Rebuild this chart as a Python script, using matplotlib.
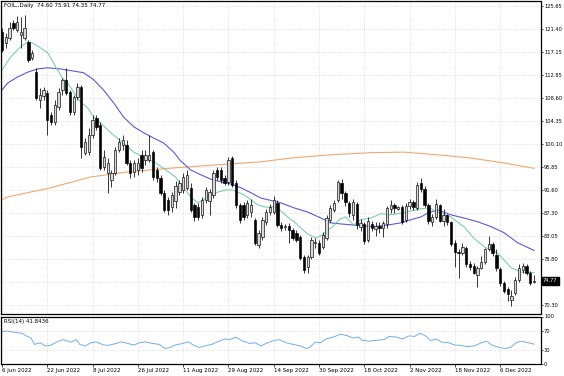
import matplotlib
matplotlib.use("Agg")
import matplotlib.pyplot as plt
import matplotlib.transforms as mtransforms
import numpy as np

opens = [120.84,118.80,119.73,122.51,121.21,120.29,119.73,118.99,116.03,113.44,
         108.26,109.00,109.56,105.49,104.19,106.97,110.11,111.96,109.74,106.04,
         108.82,110.67,98.46,98.64,101.79,104.93,103.64,95.87,94.76,93.46,
         94.76,99.01,99.94,99.94,96.61,94.94,95.31,98.09,97.16,97.16,
         98.64,95.31,93.83,91.06,89.76,88.47,89.50,91.24,91.61,91.98,
         91.98,88.84,88.47,86.99,89.76,89.50,90.69,95.31,95.31,93.83,
         93.09,97.53,92.91,88.84,88.84,86.99,87.50,86.06,81.44,82.92,
         85.69,87.54,87.54,89.21,85.14,84.77,84.86,84.21,83.66,82.92,
         79.22,77.37,79.22,81.81,81.81,81.07,82.73,86.06,87.91,89.76,
         92.90,91.00,89.20,86.90,89.00,84.70,85.30,82.40,85.30,84.40,
         84.90,84.60,85.20,88.00,88.80,88.00,88.40,86.00,88.60,89.40,
         88.30,92.90,91.80,88.90,85.60,86.60,88.90,85.90,86.90,85.60,
         81.70,80.10,80.00,80.90,77.90,77.60,75.90,77.20,78.20,80.60,
         81.50,79.60,77.00,74.40,73.30,71.30,72.60,75.00,76.80,77.50,
         76.20,74.60]
highs = [121.58,120.66,122.69,123.06,123.80,123.62,123.99,119.36,117.51,114.18,
         110.48,110.67,110.11,106.04,108.26,110.48,112.33,114.18,110.11,109.19,
         111.40,111.00,101.23,103.00,105.49,105.49,104.19,99.01,97.53,95.31,
         99.56,101.23,101.79,100.86,97.16,97.16,97.53,99.01,99.01,101.79,
         99.01,95.87,94.39,91.61,90.32,91.24,93.20,93.46,94.76,95.31,
         92.91,89.21,89.21,90.32,92.17,91.80,95.31,95.87,95.87,94.39,
         97.72,97.90,93.46,89.21,89.39,89.76,89.95,86.43,84.21,86.62,
         88.10,89.02,90.50,89.76,85.69,85.30,85.50,84.58,84.21,83.29,
         79.59,79.60,82.92,82.73,82.36,83.84,86.99,88.84,89.76,93.46,
         93.60,91.40,89.60,89.90,89.40,86.20,85.70,86.60,85.90,85.60,
         85.60,85.80,88.60,89.80,89.10,88.60,88.80,89.20,90.00,89.70,
         93.10,93.80,92.30,89.20,87.20,89.90,89.00,88.00,87.20,85.80,
         82.30,80.60,81.70,81.30,78.50,78.00,77.60,79.40,80.80,83.00,
         81.90,80.60,77.40,74.80,73.60,73.00,75.50,77.90,78.00,77.80,
         76.60,75.91]
lows = [117.14,117.88,119.36,121.21,120.84,117.88,119.36,115.29,115.66,108.26,
        106.78,108.26,101.79,103.64,103.64,106.41,109.19,109.19,105.49,105.49,
        108.26,97.53,98.09,98.09,101.23,102.70,95.31,95.31,91.06,92.17,
        94.39,98.64,99.01,96.24,93.83,94.02,94.39,94.94,96.24,96.80,
        93.46,93.09,90.69,87.54,86.99,87.54,88.30,90.69,91.06,91.61,
        87.54,85.88,86.06,86.43,89.21,86.99,90.13,93.46,92.91,92.54,
        92.54,92.17,88.28,85.51,86.06,86.43,86.62,81.44,80.88,82.36,
        85.14,86.99,87.17,84.77,84.03,84.10,81.81,82.36,81.99,78.66,
        76.26,76.26,78.85,80.88,79.59,80.70,82.36,85.69,87.54,89.39,
        90.00,88.60,86.50,86.00,84.30,84.00,81.60,82.00,84.00,83.00,
        83.60,82.90,84.60,87.30,87.40,87.80,85.30,85.60,88.00,87.90,
        87.90,91.20,88.40,85.20,84.90,86.30,85.60,85.00,85.10,81.30,
        77.30,75.30,79.50,77.30,76.80,76.00,73.60,76.90,77.90,80.30,
        79.40,76.60,73.90,72.50,71.10,70.20,72.20,74.60,76.30,75.90,
        74.00,74.35]
closes = [117.51,119.92,121.58,121.58,122.69,120.84,121.58,115.66,116.95,108.63,
          109.19,110.11,104.56,104.19,107.34,109.74,111.96,109.56,106.04,108.82,
          110.67,99.56,100.49,101.79,104.56,103.27,95.68,97.72,96.61,94.76,
          99.01,100.49,100.86,96.61,94.76,96.61,96.61,95.68,98.09,98.09,
          94.02,93.83,91.06,87.91,87.91,90.69,92.40,92.91,94.02,94.39,
          87.91,86.62,86.62,89.76,91.61,91.20,94.76,94.02,93.46,92.91,
          97.16,92.54,88.84,86.06,86.62,89.21,88.90,81.81,83.66,86.06,
          87.54,88.47,89.76,85.14,84.58,84.86,84.20,82.73,82.36,79.03,
          76.81,79.22,82.36,81.90,79.96,83.29,86.43,88.28,89.21,93.09,
          91.00,89.40,87.30,89.30,85.10,85.50,82.20,85.90,84.60,85.00,
          84.60,85.40,88.20,88.90,88.20,88.40,85.70,88.60,89.30,88.40,
          92.60,91.70,88.90,85.80,86.50,89.00,85.90,86.90,85.60,81.60,
          80.10,80.00,81.00,77.90,77.40,76.30,77.20,78.20,80.60,81.60,
          80.00,77.10,74.30,72.90,72.30,71.90,75.00,77.20,77.50,76.20,
          74.40,74.77]

# moving averages (bar position, price)
ma_fast_pos = [0,2.3,4.9,6.8,8.1,10.2,12.1,14.2,16.0,17.4,19.0,20.8,22.7,24.3,26.1,28.8,30.6,32.8,
               34.9,37.5,40.7,43.4,46.0,48.1,50.0,51.9,53.4,55.3,57.2,59.3,61.1,62.5,64.1,65.9,
               67.8,70.0,72.5,74.4,76.0,77.8,79.7,81.3,83.2,85.0,86.4,87.7,89.3,91.1,93.2,95.1,
               97.7,100.4,103.0,105.7,108.4,111.0,113.1,115.5,118.9,122.4,125.0,127.7,131.4,
               134.9,137.5,141.0]
ma_fast_val = [113.8,116.2,118.1,119.0,118.8,117.9,117.0,114.4,112.3,111.4,109.7,107.9,106.8,105.1,
               104.0,102.2,101.2,99.9,98.6,97.7,96.6,95.3,94.0,92.0,90.3,89.2,89.8,90.7,91.2,91.6,
               91.6,91.2,90.7,89.8,88.8,88.4,88.5,87.4,86.4,85.5,84.2,83.3,82.7,83.3,84.2,84.8,
               86.1,86.6,85.1,86.1,86.4,87.2,87.0,87.3,87.7,88.1,88.3,87.5,86.6,84.8,82.7,81.1,
               79.9,77.2,76.4,76.3]
ma_mid_pos = [0,1.5,4.1,6.8,9.4,12.1,15.5,19.0,21.6,24.3,26.9,29.6,32.2,34.9,37.5,40.2,42.8,45.5,
              47.3,50.0,52.7,55.3,58.0,60.6,63.3,65.9,68.6,70.4,73.9,77.3,81.0,84.5,87.1,89.8,
              93.2,96.9,98.5,102.2,105.7,108.4,111.0,113.1,115.5,118.9,122.4,126.1,129.6,133.0,
              136.7,141.0]
ma_mid_val = [110.1,111.4,112.5,113.4,114.0,114.2,114.0,113.6,113.3,112.0,110.1,107.7,105.1,103.3,
              102.2,101.2,100.3,98.6,97.0,95.3,94.4,93.6,93.1,92.7,92.0,91.1,90.1,89.8,89.2,88.3,
              87.5,86.4,85.5,85.3,85.1,84.9,84.8,85.1,85.5,86.1,86.6,87.4,87.9,87.0,86.4,85.7,
              84.8,83.7,81.8,80.4]
ma_slow_pos = [0,1.5,12.9,23.5,34.1,46.0,56.1,68.6,76.5,87.1,97.7,106.5,115.5,124.3,133.0,141.0]
ma_slow_val = [89.8,90.3,92.0,94.0,95.0,95.7,96.2,96.8,97.5,98.1,98.5,98.6,98.1,97.5,96.6,95.6]

rsi_pos = [0,1.4,3.4,5.3,6.7,7.7,8.6,10.1,11.5,12.9,14.9,16.3,18.2,19.7,20.6,22.1,23.5,24.9,26.9,
           28.3,30.2,31.6,33.6,35.0,36.4,37.9,39.8,41.7,43.2,44.6,45.6,47.5,49.4,50.8,52.3,53.7,
           55.6,57.1,59.0,60.4,61.9,63.8,65.7,67.1,68.6,70.0,71.5,73.4,75.3,77.2,79.1,80.6,81.5,
           83.0,84.4,85.8,87.8,89.7,91.6,93.0,94.5,95.4,97.3,99.3,101.2,102.6,104.5,106.0,107.9,
           109.3,110.8,112.2,113.6,115.1,116.5,118.4,119.9,121.3,123.2,125.1,127.1,128.5,129.9,
           131.9,133.3,134.7,136.2,137.6,139.5,141.0]
rsi_val = [68.0,69.3,66.7,64.7,58.0,54.7,41.3,44.7,38.0,39.3,48.0,51.3,46.0,51.3,41.3,38.0,44.7,
           46.7,40.0,39.3,43.3,46.7,42.7,40.0,44.7,46.7,43.3,41.3,32.7,34.7,39.3,42.7,46.7,39.3,
           34.7,38.0,41.3,46.7,52.7,51.3,56.7,48.0,43.3,44.7,38.0,43.3,48.0,51.3,44.7,41.3,38.0,
           32.7,34.7,46.0,44.7,52.7,56.7,62.7,59.3,54.7,56.7,50.0,48.0,50.0,51.3,58.0,56.7,52.7,
           59.3,58.0,64.7,59.3,49.3,52.7,46.0,44.7,40.0,39.3,36.7,38.0,44.7,48.0,39.3,34.7,32.7,
           34.7,44.7,48.0,44.7,41.8]

date_ticks = [0, 12, 24, 36, 48, 60, 72, 84, 96, 108, 120, 132]
date_labels = ["6 Jun 2022", "22 Jun 2022", "8 Jul 2022", "26 Jul 2022", "11 Aug 2022",
               "29 Aug 2022", "14 Sep 2022", "30 Sep 2022", "18 Oct 2022", "2 Nov 2022",
               "18 Nov 2022", "6 Dec 2022"]
price_ticks = [125.65, 121.40, 117.15, 112.85, 108.60, 104.35, 100.10, 95.85, 91.60,
               87.30, 83.05, 78.80, 74.55, 70.30]
rsi_ticks = [100, 70, 30, 0]
title_text = "FOIL,,Daily  74.60 75.91 74.35 74.77"
rsi_text = "RSI(14) 41.8436"
last_price = 74.77

W, H = 564, 376
fig = plt.figure(figsize=(W / 100, H / 100), dpi=100)
fig.patch.set_facecolor("white")

ax_l, ax_w = 0.5 / W, 540.0 / W
ax = fig.add_axes([ax_l, 1 - 314 / H, ax_w, 313.5 / H])
rax = fig.add_axes([ax_l, 1 - 364 / H, ax_w, 47.5 / H])

fs = 4.0
fs_r = 3.7
grid_kw = dict(color="#c8c8c8", lw=0.5, linestyle=(0, (1, 2)))
n = len(closes)
x = np.arange(n)
o = np.array(opens); c = np.array(closes); h = np.array(highs); l = np.array(lows)
xmin, xmax = -0.4, 142.7

for a in (ax, rax):
    a.set_xlim(xmin, xmax)
    for t in date_ticks:
        a.axvline(t, zorder=0, **grid_kw)
    for s in a.spines.values():
        s.set_color("black")
        s.set_linewidth(0.9)

ax.set_ylim(68.63, 126.67)
for p in price_ticks:
    ax.axhline(p, zorder=0, **grid_kw)

# moving averages
ax.plot(ma_slow_pos, ma_slow_val, color="#f0a870", lw=0.8, zorder=2)
ax.plot(ma_mid_pos, ma_mid_val, color="#5a5ad8", lw=0.8, zorder=2)
ax.plot(ma_fast_pos, ma_fast_val, color="#6ccaa8", lw=0.7, zorder=2)

# candles
up = c >= o
ax.vlines(x, l, h, color="black", lw=0.55, zorder=3)
body_lo = np.minimum(o, c)
body_h = np.maximum(np.abs(c - o), 0.12)
ax.bar(x[up], body_h[up], bottom=body_lo[up], width=0.62, color="#d8d8d8",
       edgecolor="black", linewidth=0.45, zorder=4)
ax.bar(x[~up], body_h[~up], bottom=body_lo[~up], width=0.62, color="black",
       edgecolor="black", linewidth=0.45, zorder=4)

ax.yaxis.tick_right()
ax.set_yticks([p for p in price_ticks if abs(p - last_price) > 1.0])
ax.set_yticklabels([f"{p:.2f}" for p in price_ticks if abs(p - last_price) > 1.0])
ax.tick_params(axis="y", labelsize=fs_r, length=1.5, width=0.5, pad=1.0, colors="black")
ax.set_xticks([])

trans = mtransforms.blended_transform_factory(ax.transAxes, ax.transData)
ax.text(1.0 + 2.5 / 540.0, last_price, f"{last_price:.2f}", transform=trans, fontsize=fs_r,
        color="white", va="center", ha="left",
        bbox=dict(boxstyle="square,pad=0.25", fc="black", ec="black"))
ax.text(3 / 540.0, 1 - 2.5 / 313.5, title_text, transform=ax.transAxes, fontsize=fs,
        va="top", ha="left", color="black")

# RSI
rax.set_ylim(0, 100)
for lv in (70, 30):
    rax.axhline(lv, zorder=0, **grid_kw)
rax.plot(rsi_pos, rsi_val, color="#72aee6", lw=0.7)
rax.yaxis.tick_right()
rax.set_yticks(rsi_ticks)
rax.set_yticklabels([str(v) for v in rsi_ticks])
rax.tick_params(axis="y", labelsize=fs_r, length=1.5, width=0.5, pad=1.0)
rax.set_xticks(date_ticks)
rax.set_xticklabels(date_labels)
rax.tick_params(axis="x", labelsize=fs, length=2, width=0.5, pad=1)
for lab in rax.get_xticklabels():
    lab.set_ha("left")
rax.text(3 / 540.0, 1 - 2 / 47.5, rsi_text, transform=rax.transAxes, fontsize=fs,
         va="top", ha="left")

fig.savefig("out.png", dpi=100)
